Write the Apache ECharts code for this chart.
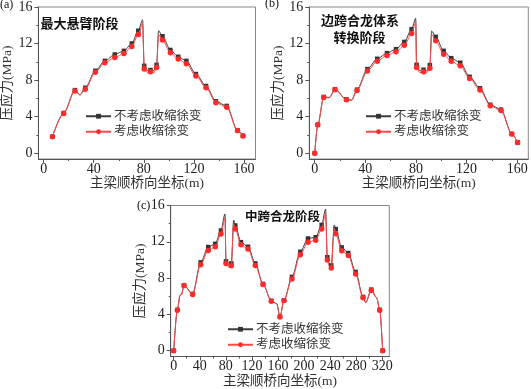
<!DOCTYPE html>
<html>
<head>
<meta charset="utf-8">
<script src="https://cdn.jsdelivr.net/npm/echarts@6/dist/echarts.min.js"></script>
<style>
  html, body { margin: 0; padding: 0; background: #fff; }
  #chart-ctn { width: 531px; height: 389px; }
</style>
</head>
<body>
<div id="chart-ctn"></div>
<script>
// (a) 最大悬臂阶段
var aX     = [7, 16, 25, 29, 33.2, 41.3, 48.9, 56.8, 64.1, 70.4, 75.6, 79, 80.3, 83, 85.3, 88, 90.2, 91.8, 94.9, 101.2, 107.5, 114, 121.6, 129.7, 137.6, 146.2, 154.8, 159.2];
var aNo    = [1.8, 4.4, 6.9, 6.4, 7.15, 9.02, 10.1, 10.8, 11.2, 12.0, 13.4, 14.6, 9.56, 9.05, 9.1, 9.05, 9.67, 13.4, 12.8, 11.3, 10.55, 10.1, 8.66, 7.35, 5.67, 5.17, 2.5, 1.9];
var aYes   = [1.8, 4.35, 6.8, 6.35, 7.0, 8.87, 9.89, 10.47, 10.9, 11.67, 13.0, 14.2, 9.2, 8.8, 8.9, 8.8, 9.38, 13.0, 12.4, 11.0, 10.3, 9.8, 8.44, 7.17, 5.53, 5.02, 2.47, 1.89];
var aMark  = [1, 1, 1, 0, 1, 1, 1, 1, 1, 1, 1, 0, 1, 0, 1, 0, 1, 0, 1, 1, 1, 1, 1, 1, 1, 1, 1, 1];

// (b) 边跨合龙体系转换阶段
var bX     = [0, 2.4, 7.1, 11.5, 16, 25, 29, 33.4, 41.6, 49.4, 57.1, 64.2, 70.8, 76.6, 79.8, 80.5, 83, 86, 88.5, 91, 92.4, 95.6, 101.9, 107.9, 115, 122.4, 130.6, 138.7, 147.2, 155.8, 160.3];
var bNo    = [0, 3.1, 6.15, 6.1, 7.0, 5.9, 5.8, 6.95, 9.2, 10.33, 10.95, 11.38, 12.18, 13.57, 14.76, 9.67, 9.0, 9.13, 9.0, 9.64, 13.38, 12.73, 11.2, 10.4, 9.9, 8.36, 7.1, 5.3, 4.77, 2.1, 1.17];
var bYes   = [0, 3.1, 6.1, 6.05, 6.95, 5.85, 5.75, 6.85, 8.98, 10.07, 10.7, 11.1, 11.8, 13.1, 14.3, 9.38, 8.8, 8.9, 8.8, 9.3, 13.0, 12.3, 10.84, 10.07, 9.56, 8.18, 6.9, 5.2, 4.66, 2.1, 1.17];
var bMark  = [1, 1, 1, 0, 1, 1, 0, 1, 1, 1, 1, 1, 1, 1, 0, 1, 0, 1, 0, 1, 0, 1, 1, 1, 1, 1, 1, 1, 1, 1, 1];

// (c) 中跨合龙阶段
var cX     = [0, 5.6, 9.7, 12, 15.8, 29, 41.4, 53, 63.8, 72.5, 78.7, 80.2, 84.5, 88.4, 92, 94.5, 103.2, 114, 125.2, 137, 149.7, 158, 163, 169.2, 181.4, 194.2, 206, 217.8, 227, 233, 235.6, 238.5, 241.7, 246.3, 248.5, 257.7, 267.8, 279, 290.4, 294.5, 303, 311.3, 316, 320.5];
var cNo    = [0, 4.5, 6.1, 6.2, 7.2, 6.25, 9.73, 11.42, 11.78, 13.24, 15.07, 9.84, 9.4, 9.62, 14.4, 13.8, 11.96, 11.45, 9.62, 7.35, 5.5, 5.2, 3.75, 5.55, 8.13, 10.9, 12.36, 12.5, 13.86, 15.6, 10.3, 9.6, 9.4, 13.86, 13.4, 11.38, 10.76, 8.68, 5.93, 5.3, 6.73, 5.85, 4.5, 0];
var cYes   = [0, 4.47, 6.08, 6.2, 7.18, 6.2, 9.48, 11.05, 11.45, 12.85, 14.6, 9.6, 9.2, 9.37, 14.0, 13.4, 11.67, 11.2, 9.4, 7.29, 5.46, 5.17, 3.7, 5.53, 7.9, 10.57, 11.96, 12.18, 13.4, 15.1, 10.0, 9.3, 9.1, 13.5, 12.88, 11.0, 10.5, 8.45, 5.83, 5.28, 6.63, 5.83, 4.47, 0];
var cMark  = [1, 1, 0, 0, 1, 1, 1, 1, 1, 1, 0, 1, 0, 1, 0, 1, 1, 1, 1, 1, 1, 0, 1, 1, 1, 1, 1, 1, 1, 0, 1, 0, 1, 0, 1, 1, 1, 1, 1, 0, 1, 0, 1, 1];

var yMajor = [0, 4, 8, 12, 16];
var yMinor = [2, 6, 10, 14];
var xMajorHalf = [0, 40, 80, 120, 160];
var xMinorHalf = [20, 60, 100, 140];
var xMajorFull = [0, 40, 80, 120, 160, 200, 240, 280, 320];
var xMinorFull = [20, 60, 100, 140, 180, 220, 260, 300];

var nameNo = '不考虑收缩徐变';
var nameYes = '考虑收缩徐变';
var xName = '主梁顺桥向坐标(m)';
var yName = '压应力(MPa)';

var FONT = "'Liberation Serif', 'Noto Sans CJK SC', serif";
var AXIS_COLOR = '#555';

var myChart = echarts.init(document.getElementById('chart-ctn'));

var grids = [
  {left: 35, top: 6, width: 220.5, height: 153, show: true, borderColor: '#888', borderWidth: 1},
  {left: 309.3, top: 6, width: 219, height: 153, show: true, borderColor: '#888', borderWidth: 1},
  {left: 170.7, top: 205.5, width: 218.6, height: 152.3, show: true, borderColor: '#888', borderWidth: 1}
];
var xRanges = [[-4.2, 169.2], [-4.3, 168.8], [-4.6, 330.7]];
var xMajors = [xMajorHalf, xMajorHalf, xMajorFull];
var xMinors = [xMinorHalf, xMinorHalf, xMinorFull];

var xAxes = [], yAxes = [];
for (var i = 0; i < 3; i++) {
  xAxes.push({
    type: 'value', gridIndex: i, position: 'bottom',
    min: xRanges[i][0], max: xRanges[i][1],
    name: xName, nameLocation: 'middle', nameGap: 18,
    nameTextStyle: {fontFamily: FONT, fontSize: 13.5, color: '#333'},
    axisLine: {show: true, onZero: false, lineStyle: {color: AXIS_COLOR, width: 1}},
    axisTick: {show: true, length: 4, customValues: xMajors[i], lineStyle: {color: AXIS_COLOR}},
    axisLabel: {customValues: xMajors[i], margin: 3, fontFamily: FONT, fontSize: 14, color: '#222'},
    splitLine: {show: false}
  });
  xAxes.push({
    type: 'value', gridIndex: i, position: 'bottom',
    min: xRanges[i][0], max: xRanges[i][1],
    axisLine: {show: false, onZero: false},
    axisTick: {show: true, length: 2, customValues: xMinors[i], lineStyle: {color: AXIS_COLOR}},
    axisLabel: {show: false},
    splitLine: {show: false}
  });
  yAxes.push({
    type: 'value', gridIndex: i, position: 'left',
    min: -0.64, max: 16,
    name: yName, nameLocation: 'middle', nameGap: 22,
    nameTextStyle: {fontFamily: FONT, fontSize: 13.5, color: '#333'},
    axisLine: {show: true, onZero: false, lineStyle: {color: AXIS_COLOR, width: 1}},
    axisTick: {show: true, length: 4, customValues: yMajor, lineStyle: {color: AXIS_COLOR}},
    axisLabel: {customValues: yMajor, margin: 6, fontFamily: FONT, fontSize: 14, color: '#222'},
    splitLine: {show: false}
  });
  yAxes.push({
    type: 'value', gridIndex: i, position: 'left',
    min: -0.64, max: 16,
    axisLine: {show: false, onZero: false},
    axisTick: {show: true, length: 2, customValues: yMinor, lineStyle: {color: AXIS_COLOR}},
    axisLabel: {show: false},
    splitLine: {show: false}
  });
}

function pairs(xs, ys) {
  return xs.map(function (x, k) { return [x, ys[k]]; });
}

function makeSeries(idx, xs, ys, marks, black) {
  return {
    type: 'line',
    name: black ? nameNo : nameYes,
    xAxisIndex: idx * 2, yAxisIndex: idx * 2,
    data: pairs(xs, ys),
    smooth: 0.3,
    smoothMonotone: 'x',
    symbol: black ? 'rect' : 'circle',
    symbolSize: function (val, params) {
      if (!marks[params.dataIndex]) return 0;
      return black ? 4.5 : 5.5;
    },
    showAllSymbol: true,
    lineStyle: {color: black ? '#3c3c3c' : '#ff4a4a', width: 1},
    itemStyle: {color: black ? '#333' : '#ff2b2b'},
    z: black ? 2 : 3
  };
}

var series = [
  makeSeries(0, aX, aNo, aMark, true),
  makeSeries(0, aX, aYes, aMark, false),
  makeSeries(1, bX, bNo, bMark, true),
  makeSeries(1, bX, bYes, bMark, false),
  makeSeries(2, cX, cNo, cMark, true),
  makeSeries(2, cX, cYes, cMark, false)
];

function makeLegend(left, top) {
  return {
    left: left, top: top, orient: 'vertical', padding: 0,
    itemWidth: 25, itemHeight: 6, itemGap: 3,
    data: [nameNo, nameYes],
    selectedMode: false,
    textStyle: {fontFamily: FONT, fontSize: 12.5, color: '#333', padding: [0, 0, 0, -2]}
  };
}

function label(text, x, y, size, bold) {
  return {
    type: 'text', left: x, top: y,
    style: {text: text, fontFamily: FONT, fontSize: size, fontWeight: bold ? 'bold' : 'normal', fill: '#111'}
  };
}

var option = {
  animation: false,
  grid: grids,
  xAxis: xAxes,
  yAxis: yAxes,
  legend: [makeLegend(85, 110), makeLegend(365, 110), makeLegend(227, 323)],
  series: series,
  graphic: [
    label('(a)', 0, -1, 12, false),
    label('(b)', 265, -2, 12, false),
    label('(c)', 137, 200, 12, false),
    label('最大悬臂阶段', 40.5, 18, 13, true),
    label('边跨合龙体系', 321, 15, 13, true),
    label('转换阶段', 333.5, 32, 13, true),
    label('中跨合龙阶段', 245, 212, 12.5, true)
  ]
};

myChart.setOption(option);
</script>
</body>
</html>
